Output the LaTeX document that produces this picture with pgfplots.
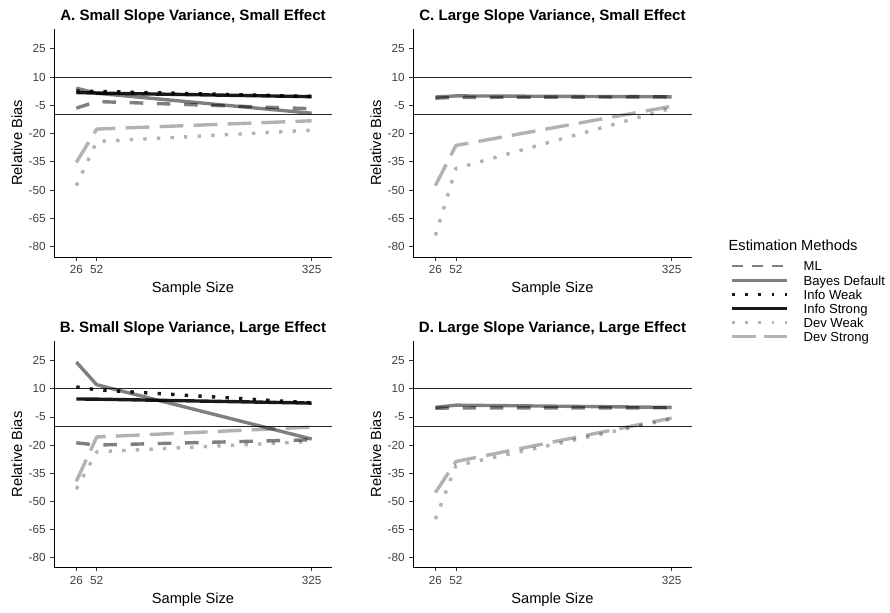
\documentclass[border=0pt]{standalone}
\usepackage{fontspec}
\setmainfont{Liberation Sans}
\usepackage{pgfplots}
\pgfplotsset{compat=1.18}

% line styles (black with alpha, as in the source)
\tikzset{
  ml/.style={black, draw opacity=0.5, line width=2.55pt, line cap=butt, line join=round, dash pattern=on 10.2pt off 10.2pt},
  bayes/.style={black, draw opacity=0.5, line width=2.55pt, line cap=butt, line join=round},
  infoweak/.style={black, draw opacity=0.9, line width=2.55pt, line cap=butt, line join=round, dash pattern=on 2.55pt off 7.65pt},
  infostrong/.style={black, draw opacity=0.9, line width=2.55pt, line cap=butt, line join=round},
  devweak/.style={black, draw opacity=0.3, line width=2.55pt, line cap=butt, line join=round, dash pattern=on 2.55pt off 7.65pt},
  devstrong/.style={black, draw opacity=0.3, line width=2.55pt, line cap=butt, line join=round, dash pattern=on 17.85pt off 7.65pt},
  refline/.style={black!85, line width=0.75pt},
  ptitle/.style={anchor=base, font=\bfseries\fontsize{11.3}{13}\selectfont},
}

\pgfplotsset{
  panel/.style={
    scale only axis,
    axis x line*=bottom, axis y line*=left,
    xmin=-2.3, xmax=350.8, ymin=-85.5, ymax=35.5,
    xtick={26,52,325}, ytick={25,10,-5,-20,-35,-50,-65,-80},
    tick align=outside, major tick length=2.75pt,
    tick style={black!80, line width=0.6pt},
    axis line style={black, line width=0.6pt},
    tick label style={font=\fontsize{8.8}{10}\selectfont, text=black!75},
    /pgf/number format/assume math mode=true,
    xlabel={Sample Size}, ylabel={Relative Bias},
    label style={font=\fontsize{11}{13}\selectfont},
    xlabel style={at={(axis description cs:0.5,-0.1566)}, anchor=base},
    ylabel style={at={(axis description cs:-0.1147,0.5)}, anchor=base},
    clip=false,
  },
}

\begin{document}
\begin{tikzpicture}
\path[use as bounding box] (0pt,0pt) rectangle (667.5pt,-459pt);

% A
\begin{axis}[panel, at={(40.5pt,-192.75pt)}, anchor=south west, width=208.5pt, height=171pt]
\addplot[refline] coordinates {(-2.3,10) (350.8,10)};
\addplot[refline] coordinates {(-2.3,-10) (350.8,-10)};
\addplot[infoweak] coordinates {(26,2.6) (52,2.4) (325,-0.3)};
\addplot[infostrong] coordinates {(26,1.8) (52,1.5) (325,-0.4)};
\addplot[devweak] coordinates {(26,-47.6) (52,-24.2) (325,-18.2)};
\addplot[devstrong] coordinates {(26,-35.3) (52,-17.6) (325,-13.2)};
\addplot[ml] coordinates {(26,-6.5) (52,-3) (325,-6.8)};
\addplot[bayes] coordinates {(26,4.1) (52,1.4) (325,-9.2)};
\node[ptitle] at (rel axis cs:0.5,1.0364) {A. Small Slope Variance, Small Effect};
\end{axis}

% C
\begin{axis}[panel, at={(309.75pt,-192.75pt)}, anchor=south west, width=209.25pt, height=171pt,
  legend style={at={(1.1387,-0.018)}, anchor=north west, draw=none, fill=none, inner sep=0pt,
    row sep=1.2pt, font=\fontsize{9.8}{11}\selectfont,
    nodes={inner sep=0pt, text height=7.2pt, text depth=2.2pt},
    /tikz/every odd column/.append style={column sep=11.25pt}},
  legend cell align=left,
  legend image code/.code={\draw[#1] (0pt,1.2pt) -- (41.25pt,1.2pt);}]
\addplot[refline, forget plot] coordinates {(-2.3,10) (350.8,10)};
\addplot[refline, forget plot] coordinates {(-2.3,-10) (350.8,-10)};
\addplot[devweak, forget plot] coordinates {(26,-74) (52,-38.5) (325,-6.5)};
\addplot[devstrong, forget plot] coordinates {(26,-47.6) (52,-26.3) (325,-5.5)};
\addplot[ml, forget plot] coordinates {(26,-1.2) (52,-0.8) (325,-0.5)};
\addplot[bayes, forget plot] coordinates {(26,-0.6) (52,0) (325,-0.5)};
\addlegendimage{ml, line width=2pt, dash pattern=on 8pt off 7pt}
\addlegendentry{ML}
\addlegendimage{bayes, line width=2pt}
\addlegendentry{Bayes Default}
\addlegendimage{infoweak, line width=2pt, dash pattern=on 2pt off 7.8pt}
\addlegendentry{Info Weak}
\addlegendimage{infostrong, line width=2pt}
\addlegendentry{Info Strong}
\addlegendimage{devweak, line width=2pt, dash pattern=on 2pt off 7.8pt}
\addlegendentry{Dev Weak}
\addlegendimage{devstrong, line width=2pt, dash pattern=on 17.5pt off 6pt}
\addlegendentry{Dev Strong}
\node[ptitle] at (rel axis cs:0.5,1.0364) {C. Large Slope Variance, Small Effect};
\end{axis}

% B
\begin{axis}[panel, at={(40.5pt,-425.8pt)}, anchor=south west, width=208.5pt, height=170pt]
\addplot[refline] coordinates {(-2.3,10) (350.8,10)};
\addplot[refline] coordinates {(-2.3,-10) (350.8,-10)};
\addplot[infoweak] coordinates {(26,11) (52,9.5) (325,2.5)};
\addplot[infostrong] coordinates {(26,4.6) (52,4.5) (325,2.4)};
\addplot[devweak] coordinates {(26,-43.5) (52,-23.6) (325,-18.1)};
\addplot[devstrong] coordinates {(26,-39.4) (52,-15.7) (325,-10.4)};
\addplot[ml] coordinates {(26,-18.8) (52,-20) (325,-17.2)};
\addplot[bayes] coordinates {(26,24.3) (52,12.2) (325,-16.8)};
\node[ptitle] at (rel axis cs:0.5,1.0364) {B. Small Slope Variance, Large Effect};
\end{axis}

% D
\begin{axis}[panel, at={(309.75pt,-425.8pt)}, anchor=south west, width=209.25pt, height=170pt]
\addplot[refline] coordinates {(-2.3,10) (350.8,10)};
\addplot[refline] coordinates {(-2.3,-10) (350.8,-10)};
\addplot[devweak] coordinates {(26,-59.5) (52,-31) (325,-6)};
\addplot[devstrong] coordinates {(26,-45.4) (52,-28.8) (325,-5.6)};
\addplot[ml] coordinates {(26,-0.3) (52,-0.2) (325,-0.1)};
\addplot[bayes] coordinates {(26,0.1) (52,1.3) (325,0.1)};
\node[ptitle] at (rel axis cs:0.5,1.0364) {D. Large Slope Variance, Large Effect};
\end{axis}

\node[anchor=base west, font=\fontsize{11}{13}\selectfont] at (543pt,-188pt) {Estimation Methods};
\end{tikzpicture}
\end{document}
